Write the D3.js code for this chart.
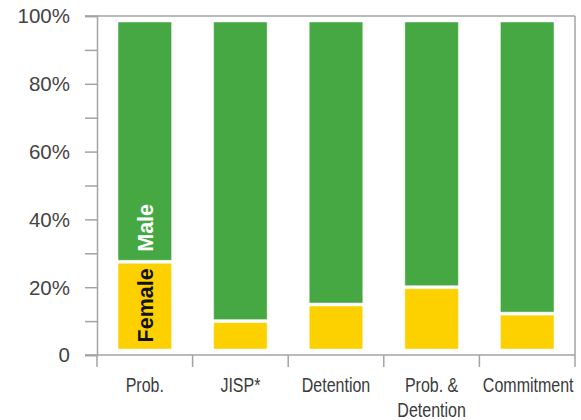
<!DOCTYPE html>
<html>
<head>
<meta charset="utf-8">
<script src="https://cdn.jsdelivr.net/npm/d3@7"></script>
<style>
  body { margin: 0; background: #fff; }
  svg text { font-family: "Liberation Sans", Arial, sans-serif; }
</style>
</head>
<body>
<div id="chart"></div>
<script>
// data (percent of youth by sex)
var categories = ["Prob.", "JISP*", "Detention", "Prob. & Detention", "Commitment"];
var categoryLines = [["Prob."], ["JISP*"], ["Detention"], ["Prob. &", "Detention"], ["Commitment"]];
var female = [27.5, 10, 14.9, 20, 12.2];
var male = female.map(f => 100 - f);
var yTicks = [0, 20, 40, 60, 80, 100];

var W = 581, H = 420;
var margin = {top: 16, right: 5, bottom: 65, left: 97};
var width = W - margin.left - margin.right;
var height = H - margin.top - margin.bottom;

var svg = d3.select("#chart").append("svg")
  .attr("width", W).attr("height", H)
  .append("g")
  .attr("transform", "translate(" + margin.left + "," + margin.top + ")");

var x = d3.scaleBand().domain(categories).range([0, width - 1]).paddingInner(0.44).paddingOuter(0.22);
var xb = d3.scaleBand().domain(categories).range([0, width - 1]);
var y = d3.scaleLinear().domain([0, 100]).range([height, 0]);

var axisColor = "#a3a3a3";

// frame: top and right
svg.append("line").attr("x1", -12).attr("x2", width - 1).attr("y1", y(100)).attr("y2", y(100))
  .attr("stroke", axisColor).attr("stroke-width", 1.5);
svg.append("line").attr("x1", width - 1).attr("x2", width - 1).attr("y1", y(100)).attr("y2", y(0))
  .attr("stroke", axisColor).attr("stroke-width", 1.5);

// y axis
var yAxis = svg.append("g")
  .call(d3.axisLeft(y).tickValues(d3.range(0, 101, 10)).tickSize(12).tickFormat(""));
yAxis.select(".domain").attr("stroke", axisColor).attr("stroke-width", 1.5);
yAxis.selectAll(".tick line").attr("stroke", axisColor).attr("stroke-width", 1.5);

svg.selectAll(".ylab").data(yTicks).enter().append("text")
  .attr("class", "ylab")
  .attr("x", -27).attr("y", d => y(d))
  .attr("dy", "0.36em")
  .attr("text-anchor", "end")
  .style("font-size", "20.5px")
  .style("fill", "#444")
  .text(d => d === 0 ? "0" : d + "%");

// x axis
var xAxisG = svg.append("g").attr("transform", "translate(0," + height + ")");
xAxisG.append("line").attr("x1", -12).attr("x2", width - 1)
  .attr("stroke", axisColor).attr("stroke-width", 1.5);
xAxisG.selectAll(".xt").data(categories.concat(["end"])).enter().append("line")
  .attr("x1", (d, i) => i < categories.length ? xb(d) : width - 1)
  .attr("x2", (d, i) => i < categories.length ? xb(d) : width - 1)
  .attr("y1", 0).attr("y2", 12)
  .attr("stroke", axisColor).attr("stroke-width", 1.5);

// condensed look: squeeze text horizontally
var xl = xAxisG.selectAll(".xlab").data(categories).enter().append("text")
  .attr("class", "xlab")
  .attr("transform", (d, i) => "translate(" + (xb(d) + xb.bandwidth() / 2 + (i === 4 ? 1 : 0)) + ",37) scale(0.8,1)")
  .attr("text-anchor", "middle")
  .style("font-size", "20px")
  .style("fill", "#3a3a3a");
xl.each(function(d, i) {
  var t = d3.select(this);
  categoryLines[i].forEach(function(s, j) {
    t.append("tspan").attr("x", 0).attr("y", j * 25).text(s);
  });
});

// bars
var inset = 6, gap = 1.5;
var barG = svg.selectAll(".bar").data(categories).enter().append("g").attr("class", "bar");

barG.append("rect")
  .attr("x", d => x(d))
  .attr("width", x.bandwidth())
  .attr("y", (d, i) => y(female[i]) + gap)
  .attr("height", (d, i) => y(0) - inset - y(female[i]) - gap)
  .attr("fill", "#fdd000")
  .attr("stroke", "#fff").attr("stroke-opacity", 0.45).attr("stroke-width", 1);

barG.append("rect")
  .attr("x", d => x(d))
  .attr("width", x.bandwidth())
  .attr("y", (d, i) => y(100) + inset)
  .attr("height", (d, i) => y(female[i]) - gap - y(100) - inset)
  .attr("fill", "#46a843")
  .attr("stroke", "#fff").attr("stroke-opacity", 0.45).attr("stroke-width", 1);

// in-bar labels on first bar
var c0 = categories[0];
var cx = x(c0) + x.bandwidth() / 2;
svg.append("text")
  .attr("transform", "translate(" + (cx + 8) + "," + ((y(female[0]) + y(0) - inset) / 2) + ") rotate(-90)")
  .attr("text-anchor", "middle")
  .style("font-size", "21.5px").style("font-weight", "bold").style("fill", "#111")
  .text("Female");
svg.append("text")
  .attr("transform", "translate(" + (cx + 8) + "," + (y(female[0]) - 10) + ") rotate(-90)")
  .attr("text-anchor", "start")
  .style("font-size", "21.5px").style("font-weight", "bold").style("fill", "#fff")
  .text("Male");
</script>
</body>
</html>
